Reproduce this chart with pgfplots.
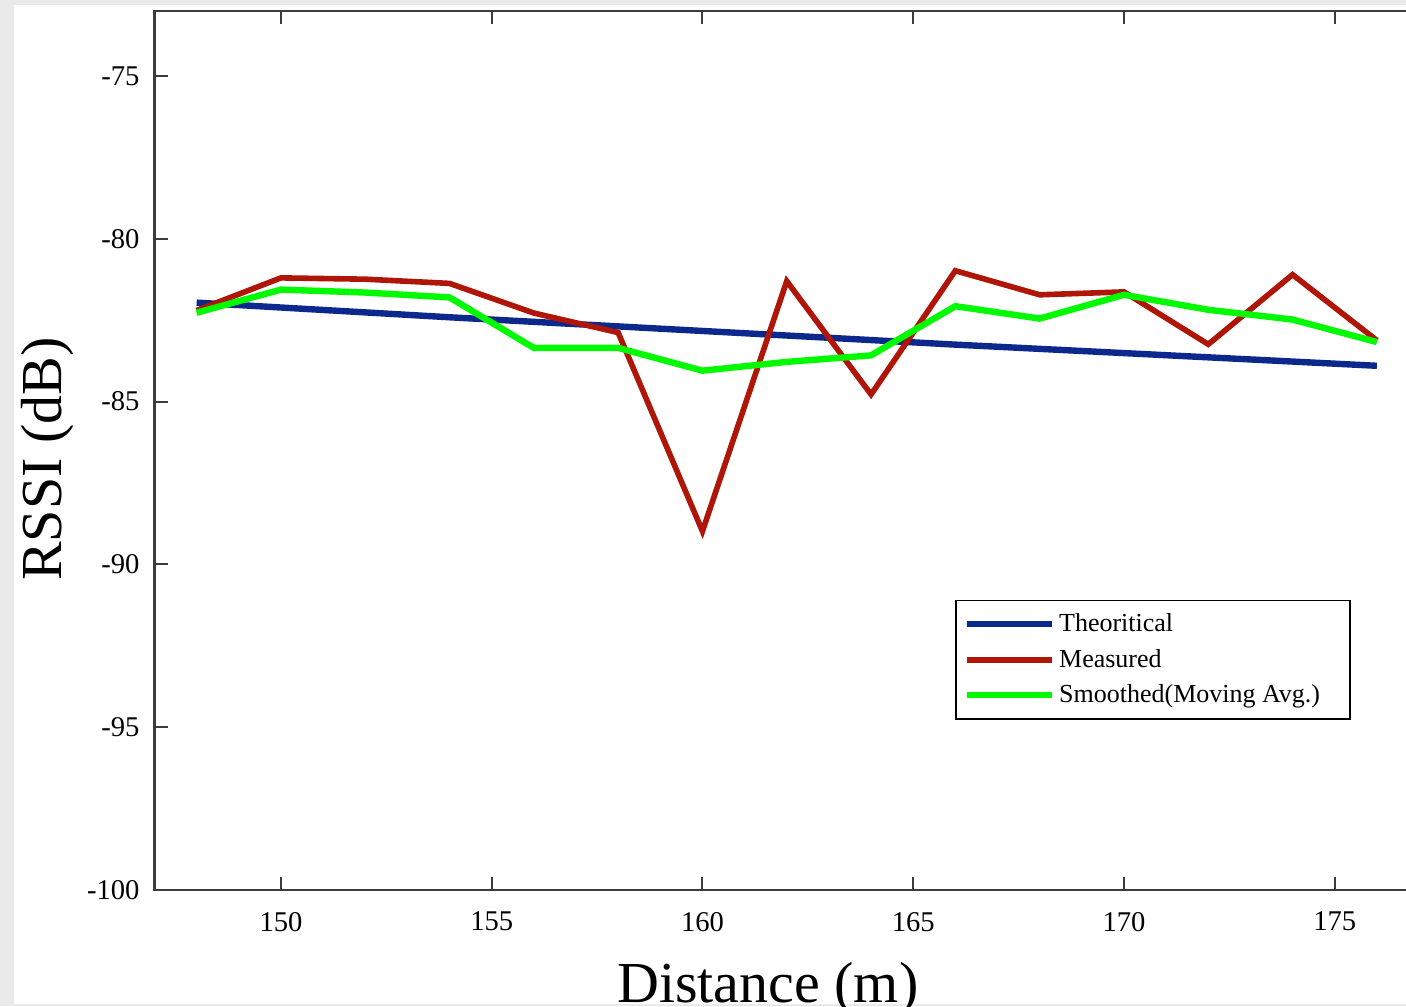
\documentclass[border=0pt]{standalone}
\usepackage{fontspec}
\setmainfont{Liberation Serif}
\usepackage{pgfplots}
\pgfplotsset{compat=1.18}
\definecolor{theoblue}{RGB}{12,40,140}
\definecolor{measred}{RGB}{175,22,8}
\definecolor{smoothgreen}{RGB}{0,250,0}
\definecolor{axgray}{RGB}{60,60,60}
\definecolor{bg}{RGB}{235,234,235}
\begin{document}
\begin{tikzpicture}
\useasboundingbox (-77.25pt,-58pt) rectangle (625.75pt,445pt);
\fill[bg] (-77.25pt,-58pt) rectangle (625.75pt,445pt);
\fill[white] (-70.25pt,-57pt) rectangle (625.75pt,442.5pt);
\begin{axis}[
  scale only axis,
  width=632.25pt, height=439.55pt,
  xmin=147, xmax=177,
  ymin=-100, ymax=-73,
  xtick={150,155,...,175},
  ytick={-100,-95,...,-75},
  tick align=inside,
  major tick length=6.5pt,
  axis line style={axgray, line width=1.1pt},
  tick style={axgray, line width=1pt},
  ticklabel style={font=\fontsize{14.3}{16}\selectfont},
  /pgf/number format/assume math mode=true,
  xticklabel style={yshift=-7.5pt},
  yticklabel style={xshift=-4pt},
  xlabel={Distance (m)},
  ylabel={RSSI (dB)},
  xlabel style={at={(axis description cs:0.485,-0.1285)}, anchor=base, font=\fontsize{29}{34}\selectfont},
  ylabel style={at={(axis description cs:-0.0847,0.49)}, anchor=center, font=\fontsize{29}{34}\selectfont},
  legend style={at={(0.633,0.33)}, anchor=north west, draw=black, line width=0.8pt,
    font=\fontsize{13}{15}\selectfont, inner xsep=4pt, inner ysep=4.5pt,
    row sep=3.25pt, cells={anchor=west}},
  legend image code/.code={\draw[#1] (0pt,0pt) -- (42.5pt,0pt);},
]
\addplot[theoblue, line width=3.2pt] coordinates {
(148,-81.96) (150,-82.11) (152,-82.26) (154,-82.41) (156,-82.55)
(158,-82.69) (160,-82.83) (162,-82.97) (164,-83.11) (166,-83.25)
(168,-83.38) (170,-83.51) (172,-83.64) (174,-83.77) (176,-83.90)};
\addlegendentry{Theoritical}
\addplot[measred, line width=2.8pt] coordinates {
(148,-82.2) (150,-81.2) (152,-81.24) (154,-81.37) (156,-82.28)
(158,-82.88) (160,-88.98) (162,-81.3) (164,-84.78) (166,-80.98)
(168,-81.72) (170,-81.63) (172,-83.24) (174,-81.1) (176,-83.12)};
\addlegendentry{Measured}
\addplot[smoothgreen, line width=3.2pt] coordinates {
(148,-82.27) (150,-81.56) (152,-81.65) (154,-81.8) (156,-83.35)
(158,-83.35) (160,-84.05) (162,-83.78) (164,-83.58) (166,-82.07)
(168,-82.45) (170,-81.72) (172,-82.18) (174,-82.48) (176,-83.17)};
\addlegendentry{Smoothed(Moving Avg.)\rule{9pt}{0pt}}
\end{axis}
\end{tikzpicture}
\end{document}
